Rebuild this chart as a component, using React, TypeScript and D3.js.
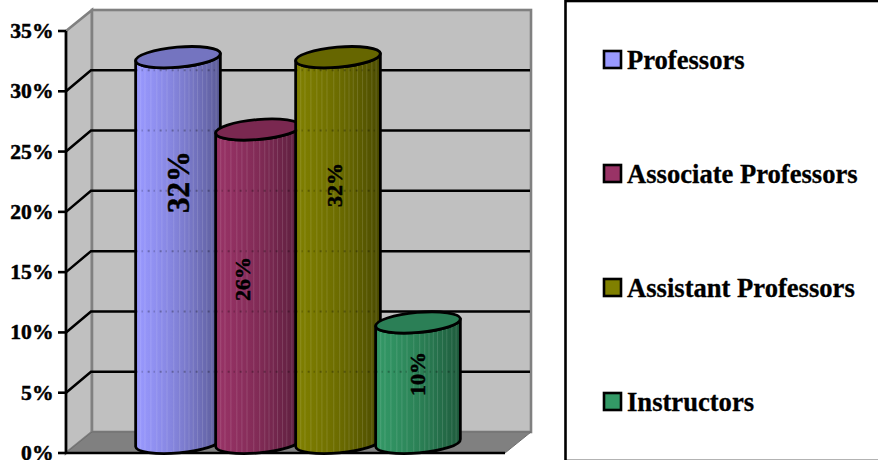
import React from "react";
import * as d3 from "d3";

// Share of faculty by academic rank
const categories = ["Professors", "Associate Professors", "Assistant Professors", "Instructors"];
const values = [32, 26, 32, 10];
const valueLabels = ["32%", "26%", "32%", "10%"];
const yTicks = [0, 5, 10, 15, 20, 25, 30, 35];

const baseColors = ["#9999FF", "#993366", "#808000", "#339966"];
const shadeColors = ["#5A5A96", "#5A1E3C", "#4B4B00", "#1E5A3C"];
const capColors = ["#7474C0", "#7A2850", "#666600", "#2B7F56"];

// Rotated value labels: size and offset from each cylinder's centre line / base
const labelSizes = [31, 22, 22, 22];
const labelDx = [0, -16, -4, -1];
const labelY = [182, 279, 185, 374];

// Fractions across a cylinder where the lit facets fall
const facetStops = [0.06, 0.11, 0.18, 0.25, 0.31, 0.37, 0.45, 0.52, 0.58, 0.63, 0.68, 0.73, 0.79, 0.84, 0.9, 0.95];

const W = 878;
const H = 460;
const depthX = 26;
const depthY = -21;
const xLeft = 66;
const xRight = 505;
const font = "'Liberation Serif', 'Times New Roman', serif";

const y = d3.scaleLinear().domain([0, 35]).range([453, 31]);
const x = d3.scalePoint<string>().domain(categories).range([178, 418]);

const rx = 42.5;
const ry = 10;
const tilt = -5;
const baseY = 443;
const unit = y(0) - y(1);

function Cylinder({ i }: { i: number }) {
  const name = categories[i];
  const cx = x(name) as number;
  const topY = baseY - values[i] * unit;
  const rad = (tilt * Math.PI) / 180;
  const ex = rx * Math.cos(rad);
  const ey = rx * Math.sin(rad);
  const ramp = d3.interpolateLab(baseColors[i], shadeColors[i]);
  const body = `M${cx - ex},${topY - ey} L${cx - ex},${baseY - ey} A${rx},${ry} ${tilt} 0 0 ${cx + ex},${baseY + ey} L${cx + ex},${topY + ey} A${rx},${ry} ${tilt} 0 1 ${cx - ex},${topY - ey} Z`;
  const clipId = `body-clip-${i}`;
  const gradId = `body-grad-${i}`;
  return (
    <g>
      <defs>
        <linearGradient id={gradId} x1="0" x2="1" y1="0" y2="0">
          {d3.range(0, 1.01, 0.1).map((t) => (
            <stop key={t} offset={t} stopColor={ramp(t < 0.1 ? 0 : t * t * 0.5 + t * 0.5)} />
          ))}
        </linearGradient>
        <clipPath id={clipId}>
          <path d={body} />
        </clipPath>
      </defs>
      <path d={body} fill={`url(#${gradId})`} />
      <g clipPath={`url(#${clipId})`}>
        {facetStops.map((f) => (
          <line
            key={f}
            x1={cx - ex + f * 2 * ex}
            x2={cx - ex + f * 2 * ex}
            y1={topY - 20}
            y2={baseY + 20}
            stroke="#ffffff"
            strokeOpacity={0.13}
            strokeWidth={1}
          />
        ))}
        {/* Grid lines ghosting through the translucent body */}
        {yTicks.slice(1, -1).map((t) => (
          <line
            key={t}
            x1={cx - ex}
            x2={cx + ex}
            y1={y(t) + depthY}
            y2={y(t) + depthY}
            stroke="#000000"
            strokeOpacity={0.28}
            strokeWidth={2}
            strokeDasharray="2 4 1 5"
          />
        ))}
      </g>
      <path d={body} fill="none" stroke="#000" strokeWidth={2.8} strokeLinejoin="round" />
      <ellipse
        cx={cx}
        cy={topY}
        rx={rx}
        ry={ry}
        transform={`rotate(${tilt} ${cx} ${topY})`}
        fill={capColors[i]}
        stroke="#000"
        strokeWidth={2.8}
      />
    </g>
  );
}

export default function App() {
  const floorY = y(0);
  return (
    <svg
      width={W}
      height={H}
      viewBox={`0 0 ${W} ${H}`}
      style={{ position: "absolute", left: 0, top: 0, background: "#fff" }}
      fontFamily={font}
      fontWeight="bold"
    >
      {/* Side wall, back wall and floor of the 3-D plot box */}
      <polygon
        points={`${xLeft},${y(35)} ${xLeft + depthX},${y(35) + depthY} ${xLeft + depthX},${floorY + depthY} ${xLeft},${floorY}`}
        fill="#C0C0C0"
        stroke="#808080"
        strokeWidth={2.6}
      />
      <rect
        x={xLeft + depthX}
        y={y(35) + depthY}
        width={xRight - xLeft}
        height={floorY - y(35)}
        fill="#C0C0C0"
        stroke="#808080"
        strokeWidth={2.6}
      />
      <polygon
        points={`${xLeft},${floorY} ${xLeft + depthX},${floorY + depthY} ${xRight + depthX},${floorY + depthY} ${xRight},${floorY}`}
        fill="#808080"
        stroke="#6e6e6e"
        strokeWidth={1}
      />

      {/* Grid lines folding across side wall and back wall */}
      {yTicks.slice(1, -1).map((t) => (
        <polyline
          key={t}
          points={`${xLeft},${y(t)} ${xLeft + depthX - 1},${y(t) + depthY} ${xRight + depthX - 1},${y(t) + depthY}`}
          fill="none"
          stroke="#000"
          strokeWidth={2.5}
        />
      ))}

      {/* Value axis and front floor edge */}
      <line x1={xLeft} x2={xLeft} y1={y(35)} y2={floorY} stroke="#000" strokeWidth={2.6} />
      <line x1={xLeft} x2={xRight} y1={floorY} y2={floorY} stroke="#000" strokeWidth={2.6} />
      {yTicks.map((t) => (
        <g key={t}>
          <line x1={xLeft - 8} x2={xLeft} y1={y(t)} y2={y(t)} stroke="#000" strokeWidth={2.6} />
          <text x={53.5} y={y(t) + 7} textAnchor="end" fontSize={21.6} fill="#000" stroke="#000" strokeWidth={0.5}>
            {t}%
          </text>
        </g>
      ))}

      {categories.map((c, i) => (
        <Cylinder key={c} i={i} />
      ))}

      {categories.map((c, i) => {
        const lx = (x(c) as number) + labelDx[i];
        return (
          <text
            key={c}
            transform={`translate(${lx},${labelY[i]}) rotate(-90)`}
            textAnchor="middle"
            dominantBaseline="central"
            fontSize={labelSizes[i]}
            fill="#000"
            stroke="#000"
            strokeWidth={0.5}
          >
            {valueLabels[i]}
          </text>
        );
      })}

      {/* Legend box, running off the right and bottom edges */}
      <rect x={565.5} y={1} width={W} height={H} fill="#fff" stroke="#000" strokeWidth={2.6} />
      {categories.map((c, i) => {
        const rowY = 60 + i * 114;
        return (
          <g key={c}>
            <rect x={604} y={rowY - 9} width={17} height={17} fill={baseColors[i]} stroke="#000" strokeWidth={2.6} />
            <text x={627} y={rowY + 8.5} fontSize={26.6} fill="#000" stroke="#000" strokeWidth={0.3}>
              {c}
            </text>
          </g>
        );
      })}
    </svg>
  );
}
